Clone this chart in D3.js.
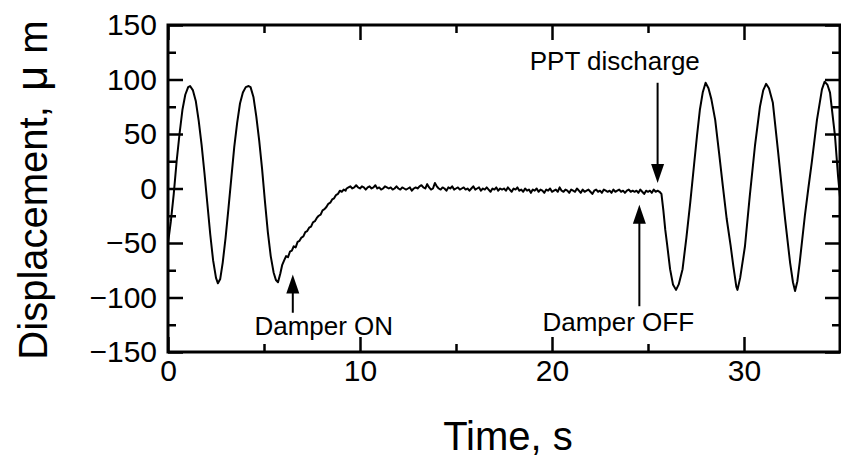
<!DOCTYPE html>
<html>
<head>
<meta charset="utf-8">
<script src="https://cdn.jsdelivr.net/npm/d3@7"></script>
<style>
    body { margin: 0; background: #fff; }
    svg { display: block; font-family: Arial, "Liberation Sans", sans-serif; }
</style>
</head>
<body>
<div id="chart"></div>
<script>
// free oscillation before the damper is switched on  [time s, displacement um]
let swingBefore = [
    [0.0, -50], [0.15, -30], [0.3, -5], [0.45, 25], [0.6, 50], [0.75, 72], [0.9, 86],
    [1.05, 93], [1.15, 94], [1.3, 90], [1.45, 80], [1.6, 62], [1.75, 40], [1.9, 14],
    [2.05, -14], [2.2, -42], [2.35, -66], [2.5, -82], [2.6, -87], [2.72, -83], [2.85, -68],
    [3.0, -45], [3.15, -18], [3.3, 10], [3.45, 38], [3.6, 60], [3.75, 78], [3.9, 88],
    [4.05, 93], [4.2, 94], [4.3, 93], [4.45, 84], [4.6, 66], [4.75, 44], [4.9, 18],
    [5.05, -12], [5.2, -40], [5.35, -62], [5.5, -77], [5.62, -84], [5.73, -86]
];

// damped return to zero
let dampedRamp = [
    [5.85, -78], [5.95, -70], [6.05, -66], [6.15, -62], [6.25, -63], [6.35, -58], [6.45, -57],
    [6.55, -53], [6.65, -54], [6.75, -49], [6.85, -48], [6.95, -45], [7.05, -44], [7.15, -40],
    [7.25, -39], [7.35, -36], [7.45, -35], [7.55, -31], [7.65, -30], [7.75, -27], [7.85, -25],
    [7.95, -24], [8.05, -20], [8.15, -19], [8.25, -17], [8.35, -14], [8.45, -13], [8.55, -10],
    [8.65, -9], [8.75, -6], [8.85, -5], [8.95, -2], [9.05, -3], [9.15, -1], [9.25, -2], [9.3, 0]
];

// settled signal, sampled every 0.1 s from 9.4 s
let settledStart = 9.4;
let settledStep = 0.1;
let settledDisp = [
    1, 2, 0, 1, 3, 1, 0, 2, 1, -1, 1, 2, 0, 1, 3, 0, 1, -1, 0, 2, 1, 0, 1, -1, 0, 2, 0, -1, 1, 0,
    -1, 0, 1, -2, 0, 1, 0, 2, 3, 1, 0, 4, 1, -1, 0, 5, 2, 0, -1, 1, 0, -2, 1, 0, 2, -1, 0, 1, -1, 0,
    1, -1, 0, -2, 0, 2, -1, 0, 1, -2, 0, -1, 1, -1, -3, 0, -1, 1, -2, 0, -1, 0, -2, 1, -1, -3, 0, -1, 1, -2,
    -1, -3, 0, -2, -1, -4, -1, -2, 0, -3, -1, -2, -4, -1, -2, 0, -3, -2, -1, -3, 1, -2, -3, -1, -2, -4, -1, -2, -3, 0,
    -2, -4, -1, -3, -2, -1, -3, -5, -2, -1, -3, -2, -4, -1, -2, -3, -2, -4, -1, -3, -2, -1, -3, -2, -4, -2, -1, -3, -2, -3,
    -2, -4, -1, -3, -5, -2, -3, -2, -4, -1, -3, -2, -3
];

// oscillation after the PPT discharge
let swingAfter = [
    [25.7, -5], [25.8, -20], [25.9, -38], [26.0, -52], [26.15, -74], [26.3, -88], [26.46, -93],
    [26.6, -88], [26.8, -74], [27.0, -45], [27.2, -13], [27.4, 22], [27.55, 48], [27.7, 72],
    [27.85, 88], [28.0, 97], [28.15, 92], [28.3, 82], [28.5, 63], [28.7, 33], [28.9, 2],
    [29.1, -28], [29.3, -52], [29.45, -72], [29.6, -90], [29.66, -93], [29.8, -82], [30.05, -53],
    [30.3, -7], [30.57, 39], [30.83, 75], [31.0, 90], [31.15, 96], [31.3, 92], [31.5, 79],
    [31.78, 33], [32.0, -5], [32.14, -28], [32.4, -68], [32.55, -86], [32.66, -94], [32.78, -85],
    [32.9, -68], [33.17, -25], [33.35, 0], [33.53, 24], [33.8, 63], [34.06, 91], [34.2, 98],
    [34.35, 95], [34.48, 88], [34.74, 48], [34.9, 11], [35.0, -8]
];

let xMajor = [0, 10, 20, 30];
let xMinor = [5, 15, 25, 35];
let yMajor = [-150, -100, -50, 0, 50, 100, 150];
let yMinor = [-125, -75, -25, 25, 75, 125];

// arrows: x in s, tip / tail in um
let arrows = [
    {label: "Damper ON", t: 6.5, tip: -79, tail: -114, textT: 4.5, textV: -134, anchor: "start"},
    {label: "Damper OFF", t: 24.55, tip: -15, tail: -108, textT: 19.5, textV: -131, anchor: "start"},
    {label: "PPT discharge", t: 25.5, tip: 5, tail: 97, textT: 27.7, textV: 109, anchor: "end"}
];

let config = {
    width: 841,
    height: 463,
    left: 168,
    right: 840,
    top: 25,
    bottom: 352
};

let settled = settledDisp.map((v, i) => [settledStart + i * settledStep, v]);
let series = swingBefore.concat(dampedRamp, settled, swingAfter);

let svg = d3.select("#chart").append("svg")
    .attr("width", config.width)
    .attr("height", config.height);

let x = d3.scaleLinear().domain([0, 35]).range([config.left, config.right]);
let y = d3.scaleLinear().domain([-150, 150]).range([config.bottom, config.top]);

svg.append("clipPath").attr("id", "plot")
    .append("rect")
    .attr("x", config.left).attr("y", config.top)
    .attr("width", config.right - config.left)
    .attr("height", config.bottom - config.top);

// the trace
svg.append("path")
    .datum(series)
    .attr("clip-path", "url(#plot)")
    .attr("fill", "none")
    .attr("stroke", "#000")
    .attr("stroke-width", 2)
    .attr("stroke-linejoin", "round")
    .attr("d", d3.line().x((d) => x(d[0])).y((d) => y(d[1])));

function drawAxis(axis, tx, ty) {
    let g = svg.append("g")
        .attr("transform", `translate(${tx},${ty})`)
        .call(axis);
    g.select(".domain").remove();
    g.selectAll("line").attr("stroke", "#000").attr("stroke-width", 2.5);
    g.selectAll("text")
        .attr("fill", "#000")
        .style("font-size", "30px")
        .style("font-family", "Arial, 'Liberation Sans', sans-serif");
    return g;
}

// bottom / top
drawAxis(d3.axisBottom(x).tickValues(xMajor).tickSize(-15).tickPadding(8), 0, config.bottom);
drawAxis(d3.axisBottom(x).tickValues(xMinor).tickSize(-8).tickFormat(""), 0, config.bottom);
drawAxis(d3.axisTop(x).tickValues(xMajor).tickSize(-15).tickFormat(""), 0, config.top);
drawAxis(d3.axisTop(x).tickValues(xMinor).tickSize(-8).tickFormat(""), 0, config.top);

// left / right
drawAxis(d3.axisLeft(y).tickValues(yMajor).tickSize(-15).tickPadding(11), config.left, 0);
drawAxis(d3.axisLeft(y).tickValues(yMinor).tickSize(-8).tickFormat(""), config.left, 0);
drawAxis(d3.axisRight(y).tickValues(yMajor).tickSize(-15).tickFormat(""), config.right, 0);
drawAxis(d3.axisRight(y).tickValues(yMinor).tickSize(-8).tickFormat(""), config.right, 0);

// frame
svg.append("rect")
    .attr("x", config.left).attr("y", config.top)
    .attr("width", config.right - config.left)
    .attr("height", config.bottom - config.top)
    .attr("fill", "none")
    .attr("stroke", "#000")
    .attr("stroke-width", 3);

// annotations
arrows.forEach((a) => {
    let ax = x(a.t);
    let y1 = y(a.tip);
    let y2 = y(a.tail);
    let dir = y2 > y1 ? 1 : -1;   // +1 arrow points up
    svg.append("line")
        .attr("x1", ax).attr("x2", ax)
        .attr("y1", y1 + dir * 10).attr("y2", y2)
        .attr("stroke", "#000").attr("stroke-width", 2);
    svg.append("path")
        .attr("d", `M${ax},${y1} L${ax - 6.5},${y1 + dir * 19} L${ax + 6.5},${y1 + dir * 19} Z`)
        .attr("fill", "#000");
    svg.append("text")
        .attr("x", x(a.textT))
        .attr("y", y(a.textV))
        .attr("text-anchor", a.anchor)
        .style("font-size", "26px")
        .text(a.label);
});

// axis titles
svg.append("text")
    .attr("x", 508)
    .attr("y", 450)
    .attr("text-anchor", "middle")
    .style("font-size", "40px")
    .text("Time, s");

let ylab = svg.append("text")
    .attr("transform", "translate(47,190) rotate(-90)")
    .attr("text-anchor", "middle")
    .style("font-size", "40px");
ylab.append("tspan").text("Displacement, ");
ylab.append("tspan")
    .attr("dx", 4)
    .style("font-size", "44px")
    .text("μ");
ylab.append("tspan").attr("dx", 12).text("m");
</script>
</body>
</html>
